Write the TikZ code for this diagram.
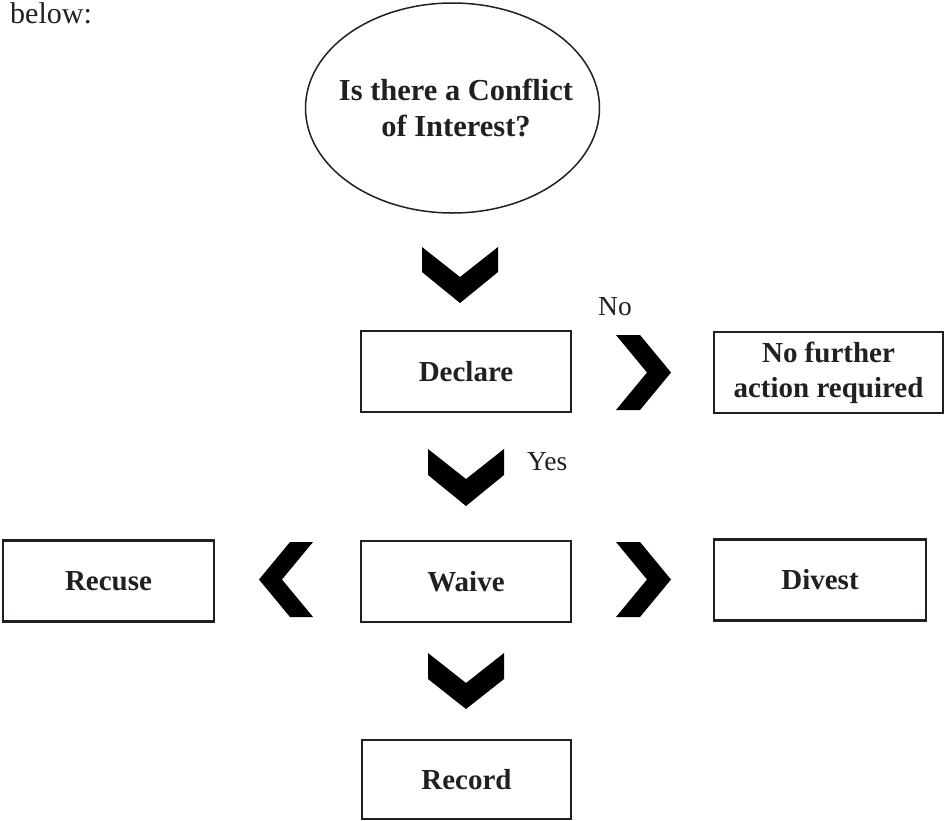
\documentclass[tikz,border=0pt]{standalone}
\usepackage{fontspec}
\setmainfont{Liberation Serif}
\usetikzlibrary{shapes.geometric}
\definecolor{ink}{RGB}{35,31,32}
\tikzset{
  box/.style={draw=ink, line width=2.3pt, minimum width=210pt, minimum height=81pt, inner sep=2pt,
    align=center, text=ink, font=\fontsize{29}{35}\selectfont\bfseries},
  bubbletext/.style={inner sep=0pt, align=center, text=ink, font=\fontsize{30.5}{36}\selectfont\bfseries},
  bubbleline/.style={draw=ink, line width=1.5pt},
  lbl/.style={text=ink, inner sep=0pt, anchor=base west, font=\fontsize{27.5}{30}\selectfont},
  chev/.style={fill=black}
}
\begin{document}
\begin{tikzpicture}[x=1pt,y=-1pt]
\useasboundingbox (0,0) rectangle (945,820);
% intro text
\node[lbl, font=\fontsize{30}{32}\selectfont] (intro) at (10,23) {below:};
% question
\node[bubbletext] (q) at (456,108) {Is there a Conflict\\of Interest?};
\draw[bubbleline] (452.5,108) ellipse [x radius=147pt, y radius=105pt];
% boxes
\node[box] (declare) at (466,371.5) {Declare};
\node[box, minimum width=229pt] (nofurther) at (828.5,372.5) {No further\\action required};
\node[box] (waive) at (466,581.5) {Waive};
\node[box, minimum width=211pt] (recuse) at (108.5,581) {Recuse};
\node[box, minimum width=212pt] (divest) at (820,580) {Divest};
\node[box, minimum width=209pt, minimum height=79pt] (record) at (466.5,779.5) {Record};
% labels
\node[lbl] (nolbl) at (598,315) {No};
\node[lbl] (yeslbl) at (527,470) {Yes};
% chevrons
\fill[chev] (422,247) -- (460,277) -- (498,247) -- (498,272) -- (460,303) -- (422,272) -- cycle;
\fill[chev] (428,449) -- (466,479) -- (504,449) -- (504,475) -- (466,506) -- (428,475) -- cycle;
\fill[chev] (428,653) -- (466,683) -- (504,653) -- (504,679) -- (466,709) -- (428,679) -- cycle;
\fill[chev] (616,335) -- (640,335) -- (671,372.5) -- (640,410) -- (616,410) -- (647,372.5) -- cycle;
\fill[chev] (616,542) -- (640,542) -- (671,579.5) -- (640,617) -- (616,617) -- (647,579.5) -- cycle;
\fill[chev] (290,542) -- (313,542) -- (282,579.5) -- (313,617) -- (290,617) -- (259,579.5) -- cycle;
\end{tikzpicture}
\end{document}
